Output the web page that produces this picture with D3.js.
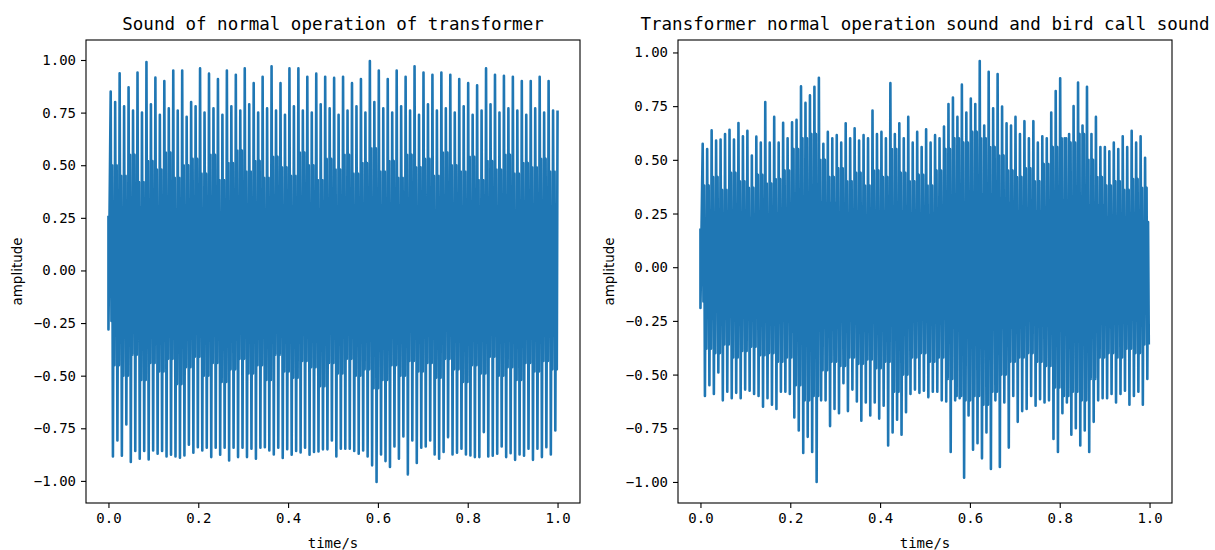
<!DOCTYPE html>
<html>
<head>
<meta charset="utf-8">
<script src="https://cdn.jsdelivr.net/npm/d3@7"></script>
<style>
  body { margin: 0; background: white; }
</style>
</head>
<body>
<div id="canvas"></div>
<script>
"use strict"

/* Configuration variables: drawing */
let svgWidth = 1215;
let svgHeight = 550;

let frameTop = 40;
let frameBottom = 503;
let panelLefts = [86, 678];
let frameWidth = 494;

let lineColor = "#1f77b4";
let monoFont = "'DejaVu Sans Mono', monospace";

// DATA
// the hum has two peaks per 50 Hz cycle, read as half-cycles
let firstPeak = 0.005;
let halfPeriod = 0.00995;
let coreBin = 0.05;

let xTicks = [0.0, 0.2, 0.4, 0.6, 0.8, 1.0];
let yTicks = [-1.0, -0.75, -0.5, -0.25, 0.0, 0.25, 0.5, 0.75, 1.0];

// left: sound of normal operation
let normalStart = [0.26, -0.28];
// main peaks, one per half-cycle
let normalPeaks = [
  0.85, 0.80, 0.937, 0.78, 0.87, 0.76, 0.94, 0.75, 0.99, 0.79,
  0.916, 0.74, 0.90, 0.77, 0.95, 0.76, 0.95, 0.73, 0.80, 0.78,
  0.96, 0.75, 0.935, 0.77, 0.91, 0.74, 0.95, 0.78, 0.93, 0.76,
  0.96, 0.79, 0.89, 0.75, 0.92, 0.77, 0.97, 0.76, 0.89, 0.74,
  0.96, 0.78, 0.96, 0.76, 0.92, 0.75, 0.935, 0.79, 0.92, 0.77,
  0.915, 0.74, 0.92, 0.76, 0.89, 0.78, 0.91, 0.75, 0.995, 0.80,
  0.95, 0.77, 0.91, 0.75, 0.95, 0.78, 0.92, 0.76, 0.97, 0.74,
  0.94, 0.79, 0.93, 0.76, 0.94, 0.77, 0.93, 0.75, 0.91, 0.78,
  0.89, 0.74, 0.88, 0.76, 0.96, 0.79, 0.93, 0.75, 0.925, 0.77,
  0.92, 0.76, 0.90, 0.74, 0.90, 0.77, 0.92, 0.75, 0.90, 0.76,
  0.76
];
// main troughs, one per half-cycle
let normalTroughs = [
  -0.884, -0.808, -0.88, -0.732, -0.91, -0.858, -0.895, -0.858, -0.898, -0.855,
  -0.871, -0.858, -0.884, -0.876, -0.884, -0.89, -0.879, -0.828, -0.866, -0.84,
  -0.855, -0.842, -0.887, -0.842, -0.876, -0.842, -0.903, -0.842, -0.887, -0.842,
  -0.887, -0.847, -0.895, -0.842, -0.84, -0.855, -0.874, -0.842, -0.891, -0.849,
  -0.876, -0.858, -0.865, -0.842, -0.876, -0.863, -0.86, -0.85, -0.85, -0.808,
  -0.884, -0.847, -0.847, -0.847, -0.858, -0.871, -0.855, -0.884, -0.926, -1.005,
  -0.874, -0.906, -0.934, -0.836, -0.895, -0.789, -0.969, -0.808, -0.915, -0.842,
  -0.836, -0.808, -0.874, -0.895, -0.863, -0.792, -0.874, -0.866, -0.847, -0.874,
  -0.879, -0.887, -0.887, -0.768, -0.884, -0.88, -0.871, -0.836, -0.887, -0.868,
  -0.9, -0.874, -0.88, -0.847, -0.9, -0.847, -0.887, -0.84, -0.874, -0.76
];
// smaller spikes inside the dense band, one per 50 Hz cycle
let normalMidHi = [
  0.50, 0.45, 0.55, 0.42, 0.52, 0.48, 0.56, 0.44, 0.50, 0.53,
  0.46, 0.55, 0.43, 0.51, 0.57, 0.47, 0.52, 0.44, 0.54, 0.49,
  0.45, 0.56, 0.50, 0.43, 0.53, 0.48, 0.55, 0.46, 0.51, 0.58,
  0.47, 0.52, 0.44, 0.55, 0.49, 0.53, 0.45, 0.56, 0.50, 0.47,
  0.54, 0.43, 0.52, 0.48, 0.55, 0.46, 0.51, 0.49, 0.53, 0.47
];
let normalMidLo = [
  -0.45, -0.50, -0.40, -0.52, -0.44, -0.48, -0.42, -0.54, -0.46, -0.41,
  -0.50, -0.44, -0.53, -0.47, -0.42, -0.49, -0.45, -0.52, -0.40, -0.48,
  -0.51, -0.43, -0.46, -0.55, -0.44, -0.49, -0.42, -0.50, -0.47, -0.56,
  -0.52, -0.45, -0.50, -0.43, -0.48, -0.44, -0.51, -0.42, -0.47, -0.53,
  -0.45, -0.49, -0.41, -0.50, -0.46, -0.52, -0.44, -0.48, -0.43, -0.47
];
// solid core of the waveform, one value per 0.05 s
let normalCoreHi = [0.28, 0.30, 0.28, 0.29, 0.27, 0.30, 0.29, 0.28, 0.30, 0.28,
                    0.29, 0.28, 0.31, 0.29, 0.28, 0.29, 0.27, 0.30, 0.28, 0.28];
let normalCoreLo = [-0.24, -0.22, -0.21, -0.22, -0.20, -0.22, -0.21, -0.22, -0.20, -0.21,
                    -0.22, -0.24, -0.22, -0.21, -0.22, -0.20, -0.21, -0.22, -0.21, -0.22];

// right: normal operation plus bird call
let birdStart = [0.18, -0.19];
let birdPeaks = [
  0.575, 0.55, 0.637, 0.59, 0.595, 0.62, 0.64, 0.595, 0.671, 0.61,
  0.635, 0.52, 0.608, 0.58, 0.769, 0.58, 0.70, 0.58, 0.673, 0.60,
  0.675, 0.686, 0.842, 0.765, 0.80, 0.84, 0.882, 0.575, 0.63, 0.60,
  0.615, 0.58, 0.67, 0.60, 0.647, 0.59, 0.615, 0.60, 0.73, 0.62,
  0.63, 0.60, 0.857, 0.62, 0.67, 0.60, 0.70, 0.58, 0.63, 0.56,
  0.642, 0.58, 0.615, 0.60, 0.655, 0.76, 0.79, 0.70, 0.85, 0.72,
  0.785, 0.76, 0.96, 0.66, 0.91, 0.74, 0.90, 0.748, 0.67, 0.66,
  0.70, 0.62, 0.68, 0.60, 0.68, 0.58, 0.61, 0.60, 0.72, 0.82,
  0.88, 0.60, 0.62, 0.75, 0.86, 0.66, 0.84, 0.62, 0.70, 0.56,
  0.56, 0.54, 0.58, 0.55, 0.61, 0.56, 0.635, 0.58, 0.61, 0.51
];
let birdTroughs = [
  -0.60, -0.55, -0.59, -0.49, -0.62, -0.58, -0.61, -0.585, -0.61, -0.57,
  -0.575, -0.59, -0.60, -0.65, -0.61, -0.64, -0.66, -0.58, -0.58, -0.59,
  -0.70, -0.76, -0.865, -0.79, -0.86, -1.00, -0.62, -0.62, -0.74, -0.66,
  -0.68, -0.54, -0.67, -0.57, -0.625, -0.715, -0.63, -0.69, -0.63, -0.705,
  -0.645, -0.83, -0.77, -0.71, -0.78, -0.675, -0.59, -0.57, -0.585, -0.575,
  -0.605, -0.58, -0.58, -0.62, -0.625, -0.86, -0.62, -0.61, -0.98, -0.69,
  -0.85, -0.82, -0.89, -0.77, -0.94, -0.62, -0.93, -0.63, -0.84, -0.60,
  -0.72, -0.67, -0.66, -0.60, -0.645, -0.615, -0.63, -0.62, -0.80, -0.86,
  -0.68, -0.63, -0.78, -0.75, -0.83, -0.76, -0.86, -0.72, -0.62, -0.61,
  -0.61, -0.59, -0.63, -0.59, -0.575, -0.64, -0.60, -0.58, -0.64, -0.52
];
let birdMidHi = [
  0.38, 0.42, 0.36, 0.44, 0.40, 0.37, 0.43, 0.39, 0.41, 0.45,
  0.55, 0.60, 0.62, 0.50, 0.42, 0.46, 0.40, 0.44, 0.38, 0.45,
  0.42, 0.55, 0.44, 0.40, 0.43, 0.38, 0.45, 0.55, 0.60, 0.58,
  0.63, 0.60, 0.56, 0.52, 0.45, 0.42, 0.46, 0.40, 0.48, 0.56,
  0.60, 0.58, 0.62, 0.50, 0.42, 0.38, 0.40, 0.36, 0.41, 0.37
];
let birdMidLo = [
  -0.38, -0.40, -0.36, -0.42, -0.39, -0.37, -0.41, -0.40, -0.44, -0.42,
  -0.55, -0.62, -0.60, -0.48, -0.44, -0.46, -0.42, -0.45, -0.43, -0.47,
  -0.44, -0.58, -0.50, -0.42, -0.40, -0.44, -0.42, -0.52, -0.60, -0.62,
  -0.60, -0.64, -0.58, -0.50, -0.44, -0.42, -0.40, -0.44, -0.46, -0.56,
  -0.60, -0.58, -0.62, -0.52, -0.42, -0.40, -0.42, -0.38, -0.40, -0.36
];
let birdCoreHi = [0.20, 0.22, 0.23, 0.25, 0.32, 0.30, 0.25, 0.24, 0.26, 0.25,
                  0.24, 0.30, 0.34, 0.30, 0.26, 0.26, 0.31, 0.29, 0.23, 0.21];
let birdCoreLo = [-0.16, -0.18, -0.19, -0.21, -0.30, -0.28, -0.21, -0.21, -0.23, -0.21,
                  -0.21, -0.28, -0.32, -0.28, -0.23, -0.23, -0.28, -0.25, -0.19, -0.17];

let panels = [
  {title: "Sound of normal operation of transformer",
   start: normalStart, peaks: normalPeaks, troughs: normalTroughs,
   midHi: normalMidHi, midLo: normalMidLo,
   coreHi: normalCoreHi, coreLo: normalCoreLo},
  {title: "Transformer normal operation sound and bird call sound",
   start: birdStart, peaks: birdPeaks, troughs: birdTroughs,
   midHi: birdMidHi, midLo: birdMidLo,
   coreHi: birdCoreHi, coreLo: birdCoreLo}
];

/* Create drawing canvas */
let svg = d3.select("#canvas")
  .append("svg")
  .attr("width", svgWidth)
  .attr("height", svgHeight)
  .style("display", "block");

svg.append("rect")
  .attr("width", svgWidth)
  .attr("height", svgHeight)
  .attr("fill", "white");

// walk through each half-cycle: peak, core low, mid spike, trough, core high, mid dip
function buildWave(p) {
  let pts = [[0, p.start[0]], [0, p.start[1]]];
  let step = halfPeriod / 6;
  for (let j = 0; j < p.peaks.length; j++) {
    let t = firstPeak + j * halfPeriod;
    let bin = Math.min(p.coreHi.length - 1, Math.floor(t / coreBin));
    let cyc = Math.min(p.midHi.length - 1, Math.floor(j / 2));
    pts.push([t, p.peaks[j]]);
    if (j < p.troughs.length) {
      pts.push([t + step, p.coreLo[bin]]);
      pts.push([t + 2 * step, p.midHi[cyc]]);
      pts.push([t + 3 * step, p.troughs[j]]);
      pts.push([t + 4 * step, p.coreHi[bin]]);
      pts.push([t + 5 * step, p.midLo[cyc]]);
    }
  }
  return pts;
}

let yFormat = d3.format(".2f");
let xFormat = d3.format(".1f");

for (let i = 0; i < panels.length; i++) {
  let p = panels[i];
  let left = panelLefts[i];
  let wave = buildWave(p);

  let xScale = d3.scaleLinear()
    .domain([-0.05, 1.05])
    .range([left, left + frameWidth]);

  // matplotlib style 5% margin around the data
  let yMin = d3.min(wave, d => d[1]);
  let yMax = d3.max(wave, d => d[1]);
  let pad = (yMax - yMin) * 0.05;
  let yScale = d3.scaleLinear()
    .domain([yMin - pad, yMax + pad])
    .range([frameBottom, frameTop]);

  let line = d3.line()
    .x(d => xScale(d[0]))
    .y(d => yScale(d[1]));

  svg.append("path")
    .datum(wave)
    .attr("d", line)
    .attr("fill", "none")
    .attr("stroke", lineColor)
    .attr("stroke-width", 2.6)
    .attr("stroke-linejoin", "round");

  // axes
  let xAxis = svg.append("g")
    .attr("transform", "translate(0," + frameBottom + ")")
    .call(d3.axisBottom(xScale).tickValues(xTicks).tickFormat(xFormat)
      .tickSize(5).tickPadding(5));

  let yAxis = svg.append("g")
    .attr("transform", "translate(" + left + ",0)")
    .call(d3.axisLeft(yScale).tickValues(yTicks).tickFormat(yFormat)
      .tickSize(5).tickPadding(5));

  for (let ax of [xAxis, yAxis]) {
    ax.select(".domain").remove();
    ax.selectAll("text")
      .style("font-family", monoFont)
      .style("font-size", "14px")
      .attr("fill", "black");
    ax.selectAll("line").attr("stroke", "black").attr("stroke-width", 1.1);
  }

  // frame
  svg.append("rect")
    .attr("x", left)
    .attr("y", frameTop)
    .attr("width", frameWidth)
    .attr("height", frameBottom - frameTop)
    .attr("fill", "none")
    .attr("stroke", "black")
    .attr("stroke-width", 1.1);

  // labels
  svg.append("text")
    .attr("x", left + frameWidth / 2)
    .attr("y", 30)
    .style("text-anchor", "middle")
    .style("font-family", monoFont)
    .style("font-size", "17.5px")
    .text(p.title);

  svg.append("text")
    .attr("x", left + frameWidth / 2)
    .attr("y", 548)
    .style("text-anchor", "middle")
    .style("font-family", monoFont)
    .style("font-size", "14px")
    .text("time/s");

  svg.append("text")
    .attr("transform", "translate(" + (left - 64) + "," + ((frameTop + frameBottom) / 2) + ") rotate(-90)")
    .style("text-anchor", "middle")
    .style("font-family", "'DejaVu Sans', sans-serif")
    .style("font-size", "13.5px")
    .text("amplitude");
}
</script>
</body>
</html>
